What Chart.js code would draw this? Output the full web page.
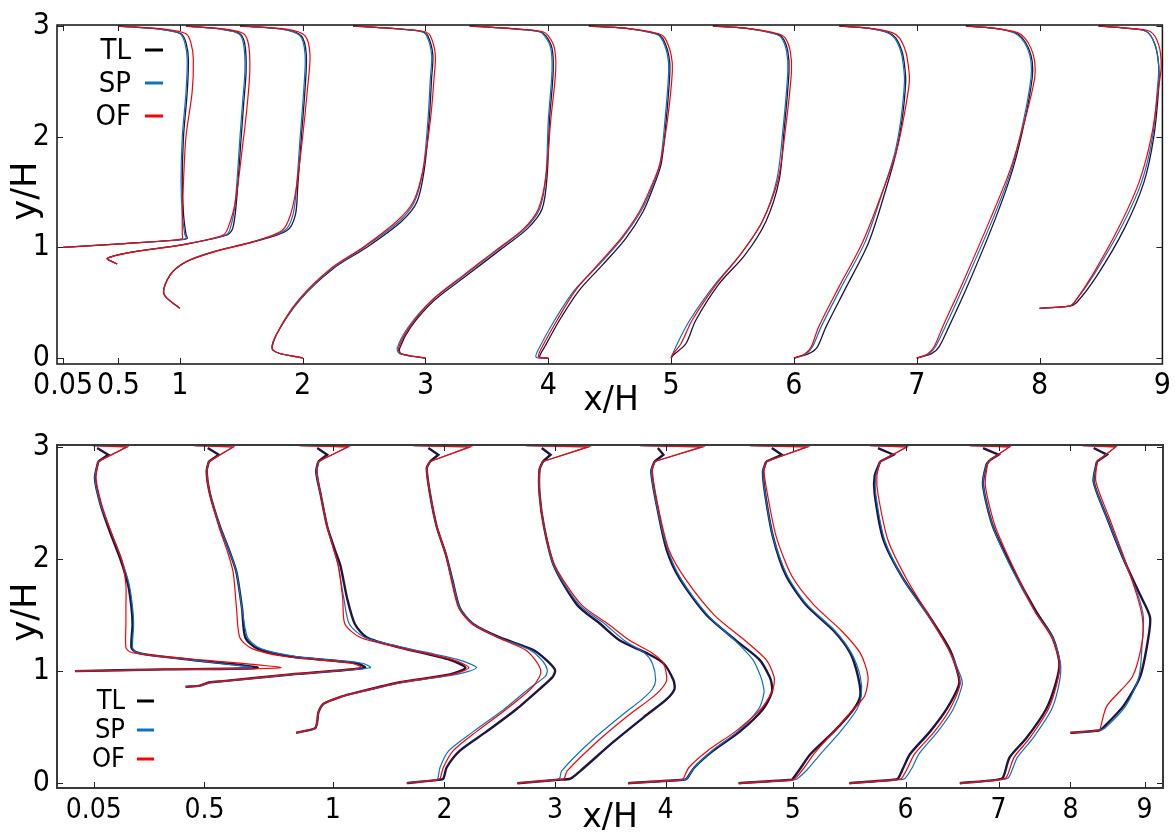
<!DOCTYPE html>
<html>
<head>
<meta charset="utf-8">
<script src="https://cdn.jsdelivr.net/npm/chart.js@4.4.0/dist/chart.umd.min.js"></script>
<style>
    body { margin: 0; background: #fff; }
    #topBox { position: absolute; left: 0; top: 0; width: 1175px; height: 420px; }
    #botBox { position: absolute; left: 0; top: 420px; width: 1175px; height: 413px; }
</style>
</head>
<body>
<div id="topBox"><canvas id="topChart" width="1175" height="420"></canvas></div>
<div id="botBox"><canvas id="botChart" width="1175" height="413"></canvas></div>
<script>
// ========== DATA: TOP PANEL (mean velocity, x/H = station + U) ==========
const seriesNames = ['TL', 'SP', 'OF'];
const topStations = [0.05, 0.5, 1, 2, 3, 4, 5, 6, 7, 8];
const topTickVals = [0.05, 0.5, 1, 2, 3, 4, 5, 6, 7, 8, 9];
const tickLabels = ['0.05', '0.5', '1', '2', '3', '4', '5', '6', '7', '8', '9'];
const yTickVals = [0, 1, 2, 3];

const topY = [
    [1.0, 1.035, 1.065, 1.08, 1.12, 1.3, 1.6, 2.0, 2.4, 2.7, 2.85, 2.93, 2.97, 3.0],
    [0.85, 0.9, 0.96, 1.02, 1.11, 1.17, 1.4, 2.0, 2.3, 2.6, 2.83, 2.93, 2.97, 3.0],
    [0.45, 0.58, 0.75, 0.87, 0.96, 1.05, 1.15, 1.29, 1.55, 2.0, 2.44, 2.74, 2.91, 2.97, 3.0],
    [0, 0.07, 0.22, 0.53, 0.81, 1.0, 1.23, 1.41, 1.7, 2.15, 2.53, 2.74, 2.91, 2.95, 2.98, 3.0],
    [0, 0.04, 0.09, 0.28, 0.52, 0.75, 0.98, 1.17, 1.35, 1.64, 2.15, 2.59, 2.8, 2.91, 2.95, 2.98, 3.0],
    [0, 0.01, 0.1, 0.34, 0.61, 0.84, 1.08, 1.32, 1.53, 1.76, 2.15, 2.59, 2.74, 2.89, 2.93, 2.98, 3.0],
    [0, 0.03, 0.13, 0.34, 0.67, 0.93, 1.23, 1.61, 2.06, 2.59, 2.77, 2.89, 2.93, 2.98, 3.0],
    [0, 0.04, 0.1, 0.28, 0.63, 1.05, 1.53, 1.85, 2.15, 2.5, 2.65, 2.77, 2.89, 2.94, 2.98, 3.0],
    [0, 0.04, 0.1, 0.28, 0.67, 1.26, 1.7, 2.15, 2.53, 2.68, 2.8, 2.89, 2.94, 2.98, 3.0],
    [0.45, 0.47, 0.5, 0.75, 1.17, 1.59, 2.0, 2.45, 2.64, 2.83, 2.95, 2.98, 3.0]
];
const topTL = [
    [0, 0.5, 0.92, 1.01, 1.0, 0.98, 0.97, 0.98, 1.01, 1.02, 1.0, 0.96, 0.8, 0.45],
    [-0.01, -0.09, 0.12, 0.5, 0.88, 0.93, 0.96, 1.0, 1.02, 1.04, 1.03, 0.99, 0.85, 0.55],
    [0, -0.13, -0.08, 0.05, 0.27, 0.6, 0.87, 0.94, 0.96, 0.99, 1.02, 1.03, 0.99, 0.85, 0.49],
    [0, -0.24, -0.21, -0.02, 0.25, 0.52, 0.8, 0.93, 0.99, 1.03, 1.05, 1.06, 1.02, 0.97, 0.7, 0.41],
    [0, -0.2, -0.21, -0.12, 0.07, 0.34, 0.61, 0.83, 0.95, 0.99, 1.01, 1.04, 1.03, 0.98, 0.93, 0.65, 0.36],
    [0, -0.07, -0.03, 0.09, 0.25, 0.44, 0.63, 0.77, 0.85, 0.92, 0.96, 0.99, 0.98, 0.93, 0.88, 0.62, 0.33],
    [0, 0.02, 0.12, 0.2, 0.39, 0.6, 0.77, 0.88, 0.92, 0.96, 0.95, 0.91, 0.85, 0.6, 0.34],
    [0, 0.12, 0.19, 0.26, 0.42, 0.61, 0.75, 0.83, 0.88, 0.91, 0.9, 0.88, 0.83, 0.77, 0.6, 0.37],
    [0, 0.12, 0.18, 0.26, 0.42, 0.64, 0.78, 0.88, 0.94, 0.94, 0.91, 0.86, 0.8, 0.62, 0.4],
    [0, 0.24, 0.3, 0.47, 0.69, 0.85, 0.93, 0.97, 0.97, 0.94, 0.87, 0.7, 0.48]
];
const topSP = [
    [0, 0.5, 0.91, 1.0, 0.99, 0.97, 0.96, 0.97, 1.0, 1.01, 0.99, 0.95, 0.79, 0.45],
    [-0.01, -0.09, 0.12, 0.5, 0.87, 0.91, 0.95, 0.99, 1.01, 1.03, 1.02, 0.98, 0.84, 0.55],
    [0, -0.13, -0.08, 0.05, 0.27, 0.59, 0.85, 0.92, 0.95, 0.98, 1.01, 1.02, 0.98, 0.84, 0.49],
    [0, -0.24, -0.21, -0.02, 0.24, 0.5, 0.78, 0.91, 0.98, 1.02, 1.04, 1.05, 1.01, 0.96, 0.7, 0.41],
    [0, -0.21, -0.23, -0.14, 0.05, 0.32, 0.59, 0.81, 0.93, 0.98, 1.0, 1.03, 1.02, 0.97, 0.92, 0.65, 0.36],
    [0, -0.1, -0.07, 0.05, 0.21, 0.41, 0.6, 0.75, 0.84, 0.91, 0.95, 0.98, 0.97, 0.92, 0.87, 0.62, 0.33],
    [0, 0.01, 0.05, 0.15, 0.36, 0.56, 0.74, 0.86, 0.91, 0.95, 0.94, 0.9, 0.84, 0.6, 0.34],
    [0, 0.1, 0.15, 0.22, 0.38, 0.58, 0.73, 0.82, 0.87, 0.9, 0.89, 0.87, 0.82, 0.76, 0.6, 0.37],
    [0, 0.1, 0.15, 0.23, 0.39, 0.62, 0.77, 0.87, 0.93, 0.93, 0.9, 0.85, 0.79, 0.62, 0.4],
    [0, 0.24, 0.28, 0.44, 0.66, 0.83, 0.92, 0.96, 0.97, 0.94, 0.87, 0.7, 0.48]
];
const topOF = [
    [0, 0.5, 0.89, 0.97, 0.97, 0.97, 0.98, 1.0, 1.05, 1.06, 1.04, 1.0, 0.84, 0.45],
    [-0.01, -0.09, 0.13, 0.51, 0.85, 0.89, 0.95, 1.02, 1.05, 1.07, 1.06, 1.02, 0.88, 0.55],
    [0, -0.13, -0.08, 0.05, 0.28, 0.59, 0.83, 0.9, 0.95, 1.0, 1.04, 1.06, 1.02, 0.88, 0.49],
    [0, -0.24, -0.21, -0.03, 0.23, 0.49, 0.76, 0.9, 0.98, 1.04, 1.07, 1.08, 1.04, 0.99, 0.71, 0.41],
    [0, -0.2, -0.22, -0.13, 0.05, 0.31, 0.58, 0.8, 0.92, 0.98, 1.02, 1.06, 1.05, 1.0, 0.95, 0.66, 0.36],
    [0, -0.08, -0.05, 0.07, 0.22, 0.4, 0.59, 0.74, 0.83, 0.91, 0.97, 1.01, 1.0, 0.95, 0.9, 0.63, 0.33],
    [0, 0.01, 0.08, 0.17, 0.37, 0.56, 0.74, 0.87, 0.93, 0.98, 0.97, 0.93, 0.87, 0.61, 0.34],
    [0, 0.09, 0.14, 0.2, 0.36, 0.56, 0.73, 0.83, 0.89, 0.94, 0.93, 0.91, 0.86, 0.8, 0.61, 0.37],
    [0, 0.09, 0.14, 0.21, 0.37, 0.6, 0.76, 0.88, 0.96, 0.96, 0.93, 0.88, 0.82, 0.63, 0.4],
    [0, 0.24, 0.28, 0.43, 0.64, 0.81, 0.91, 0.97, 0.99, 0.97, 0.9, 0.71, 0.48]
];

// ========== DATA: BOTTOM PANEL (profiles on a shifted axis) ==========
const botStations = [0, 1, 2, 3, 4, 5, 6, 7, 8, 9];
const botTickVals = [0.17, 1.17, 2.33, 3.34, 4.34, 5.34, 6.49, 7.51, 8.35, 9.0, 9.67];

const botY = [
    [1.0, 1.015, 1.03, 1.095, 1.14, 1.17, 1.21, 1.42, 1.57, 1.77, 2.0, 2.23, 2.49, 2.72, 2.87],
    [0.86, 0.87, 0.9, 0.91, 0.97, 1.03, 1.07, 1.13, 1.2, 1.3, 1.56, 1.88, 2.06, 2.29, 2.58, 2.78, 2.87],
    [0.45, 0.49, 0.55, 0.63, 0.71, 0.77, 0.81, 0.9, 0.97, 1.03, 1.1, 1.21, 1.3, 1.42, 1.65, 1.94, 2.08, 2.29, 2.58, 2.78, 2.87],
    [0, 0.03, 0.04, 0.14, 0.29, 0.46, 0.66, 0.84, 0.95, 1.01, 1.1, 1.19, 1.3, 1.42, 1.56, 1.82, 2.05, 2.29, 2.58, 2.81, 2.87],
    [0, 0.03, 0.04, 0.11, 0.37, 0.61, 0.75, 0.84, 0.92, 1.07, 1.16, 1.27, 1.42, 1.59, 1.94, 2.29, 2.58, 2.8, 2.87],
    [0, 0.03, 0.04, 0.14, 0.29, 0.46, 0.66, 0.81, 0.88, 0.95, 1.1, 1.27, 1.5, 1.82, 2.08, 2.43, 2.78, 2.87],
    [0, 0.03, 0.04, 0.12, 0.26, 0.46, 0.66, 0.78, 0.95, 1.16, 1.36, 1.59, 1.85, 2.2, 2.58, 2.78, 2.87],
    [0, 0.03, 0.04, 0.14, 0.26, 0.46, 0.66, 0.87, 0.95, 1.19, 1.48, 1.82, 2.17, 2.58, 2.74, 2.87],
    [0, 0.03, 0.05, 0.23, 0.4, 0.66, 0.9, 1.07, 1.3, 1.53, 1.91, 2.29, 2.66, 2.84, 2.88],
    [0.45, 0.47, 0.49, 0.69, 0.95, 1.27, 1.48, 1.68, 2.0, 2.37, 2.69, 2.87]
];
const botTL = [
    [0, 0.8, 1.65, 1.1, 0.7, 0.55, 0.51, 0.52, 0.51, 0.48, 0.41, 0.32, 0.23, 0.18, 0.21],
    [0, 0.13, 0.22, 0.34, 0.95, 1.62, 1.55, 0.95, 0.65, 0.54, 0.51, 0.46, 0.4, 0.31, 0.22, 0.19, 0.21],
    [0, 0.17, 0.19, 0.2, 0.25, 0.4, 0.55, 0.94, 1.39, 1.53, 1.39, 0.94, 0.64, 0.53, 0.46, 0.4, 0.35, 0.28, 0.22, 0.18, 0.2],
    [0, 0.28, 0.33, 0.36, 0.48, 0.72, 0.99, 1.2, 1.32, 1.34, 1.26, 1.14, 0.84, 0.6, 0.48, 0.41, 0.35, 0.27, 0.21, 0.18, 0.21],
    [0, 0.37, 0.48, 0.57, 0.87, 1.17, 1.35, 1.42, 1.41, 1.32, 1.17, 0.93, 0.75, 0.54, 0.33, 0.24, 0.2, 0.2, 0.23],
    [0, 0.5, 0.53, 0.6, 0.77, 1.01, 1.22, 1.3, 1.3, 1.28, 1.19, 0.98, 0.71, 0.47, 0.35, 0.27, 0.21, 0.24],
    [0, 0.48, 0.49, 0.55, 0.65, 0.86, 1.04, 1.1, 1.08, 1.01, 0.86, 0.61, 0.43, 0.31, 0.24, 0.22, 0.25],
    [0, 0.4, 0.44, 0.49, 0.55, 0.73, 0.88, 0.99, 0.99, 0.91, 0.73, 0.49, 0.31, 0.23, 0.23, 0.28],
    [0, 0.33, 0.39, 0.45, 0.6, 0.78, 0.87, 0.9, 0.84, 0.69, 0.48, 0.3, 0.21, 0.24, 0.27],
    [0, 0.26, 0.29, 0.48, 0.63, 0.7, 0.72, 0.63, 0.48, 0.33, 0.21, 0.24]
];
const botSP = [
    [0, 0.8, 1.6, 1.08, 0.7, 0.55, 0.52, 0.53, 0.52, 0.49, 0.42, 0.33, 0.23, 0.18, 0.21],
    [0, 0.13, 0.23, 0.36, 0.97, 1.67, 1.6, 1.0, 0.68, 0.56, 0.51, 0.46, 0.4, 0.31, 0.22, 0.19, 0.21],
    [0, 0.17, 0.19, 0.2, 0.25, 0.4, 0.56, 0.96, 1.45, 1.63, 1.47, 0.98, 0.62, 0.48, 0.43, 0.38, 0.34, 0.28, 0.22, 0.18, 0.2],
    [0, 0.26, 0.28, 0.3, 0.38, 0.6, 0.88, 1.1, 1.25, 1.27, 1.22, 1.11, 0.83, 0.6, 0.48, 0.41, 0.35, 0.27, 0.21, 0.18, 0.21],
    [0, 0.33, 0.38, 0.4, 0.66, 0.95, 1.13, 1.22, 1.25, 1.22, 1.15, 0.97, 0.79, 0.56, 0.33, 0.24, 0.2, 0.2, 0.23],
    [0, 0.5, 0.53, 0.6, 0.76, 0.99, 1.18, 1.23, 1.22, 1.2, 1.13, 0.97, 0.72, 0.48, 0.36, 0.27, 0.21, 0.24],
    [0, 0.5, 0.53, 0.62, 0.74, 0.92, 1.07, 1.11, 1.1, 1.02, 0.87, 0.62, 0.44, 0.31, 0.24, 0.22, 0.25],
    [0, 0.42, 0.5, 0.57, 0.63, 0.8, 0.94, 1.02, 1.01, 0.9, 0.72, 0.49, 0.32, 0.24, 0.24, 0.28],
    [0, 0.36, 0.44, 0.52, 0.66, 0.83, 0.9, 0.91, 0.84, 0.68, 0.47, 0.3, 0.21, 0.24, 0.27],
    [0, 0.26, 0.31, 0.5, 0.62, 0.65, 0.66, 0.61, 0.48, 0.33, 0.21, 0.24]
];
const botOF = [
    [0, 0.9, 1.86, 1.2, 0.68, 0.5, 0.46, 0.46, 0.46, 0.46, 0.42, 0.33, 0.24, 0.19, 0.21],
    [0, 0.13, 0.22, 0.34, 0.95, 1.59, 1.5, 0.9, 0.6, 0.49, 0.46, 0.43, 0.38, 0.3, 0.22, 0.19, 0.21],
    [0, 0.17, 0.19, 0.2, 0.25, 0.4, 0.55, 0.94, 1.41, 1.56, 1.42, 0.93, 0.58, 0.44, 0.42, 0.38, 0.34, 0.28, 0.22, 0.19, 0.2],
    [0, 0.27, 0.3, 0.33, 0.42, 0.63, 0.9, 1.12, 1.2, 1.21, 1.16, 1.07, 0.82, 0.59, 0.47, 0.4, 0.35, 0.27, 0.21, 0.18, 0.21],
    [0, 0.35, 0.42, 0.45, 0.72, 1.01, 1.2, 1.3, 1.35, 1.32, 1.22, 1.02, 0.82, 0.58, 0.34, 0.24, 0.2, 0.2, 0.23],
    [0, 0.48, 0.5, 0.55, 0.72, 0.97, 1.2, 1.3, 1.32, 1.32, 1.25, 1.06, 0.78, 0.52, 0.37, 0.28, 0.22, 0.24],
    [0, 0.49, 0.51, 0.58, 0.68, 0.86, 1.04, 1.14, 1.17, 1.1, 0.93, 0.68, 0.48, 0.34, 0.26, 0.23, 0.25],
    [0, 0.41, 0.47, 0.53, 0.59, 0.77, 0.91, 1.0, 0.99, 0.9, 0.73, 0.52, 0.35, 0.26, 0.25, 0.28],
    [0, 0.35, 0.42, 0.49, 0.63, 0.8, 0.88, 0.9, 0.83, 0.68, 0.49, 0.32, 0.23, 0.25, 0.27],
    [0, 0.26, 0.27, 0.33, 0.56, 0.65, 0.65, 0.6, 0.49, 0.35, 0.23, 0.24]
];
// kinks at the upper wall
const tailTLY = [2.93, 2.99];
const tailOFY = [3.0, 3.012];
const botTailTL = [[0.3, 0.2], [0.3, 0.2], [0.28, 0.19], [0.285, 0.195], [0.3, 0.22], [0.32, 0.27], [0.39, 0.3], [0.4, 0.26], [0.35, 0.21], [0.33, 0.21]];
const botTailOF = [[0.47, 0.16], [0.43, 0.08], [0.47, 0.03], [0.57, 0.06], [0.64, 0.08], [0.67, 0.11], [0.62, 0.1], [0.52, 0.19], [0.45, 0.09], [0.41, 0.11]];

// ========== STYLE ==========
const FONT = "'DejaVu Sans Condensed', 'DejaVu Sans', sans-serif";
Chart.defaults.font.family = FONT;
Chart.defaults.color = '#000';
Chart.defaults.animation = false;

const lineColors = { TL: '#1e1540', SP: '#0b72c4', OF: '#ff0000' };
const legendColors = ['#000000', '#0b72c4', '#ff0000'];
const drawOrder = { TL: 2, SP: 1, OF: 0 };

function pts(base, xs, ys) {
    return ys.map((y, i) => ({ x: base + xs[i], y: y }));
}

function lineSet(name, data, width, tension) {
    return {
        label: name,
        data: data,
        showLine: true,
        pointRadius: 0,
        pointHoverRadius: 0,
        borderColor: lineColors[name],
        backgroundColor: lineColors[name],
        borderWidth: width,
        tension: tension,
        fill: false,
        order: drawOrder[name]
    };
}

// ========== FRAME / TICKS / LEGEND / TITLES ==========
const framePlugin = {
    id: 'frame',
    afterDraw(chart, args, o) {
        const ctx = chart.ctx;
        const a = chart.chartArea;
        const sx = chart.scales.x, sy = chart.scales.y;
        ctx.save();
        ctx.strokeStyle = o.frameColor;
        ctx.lineWidth = o.frameWidth;
        ctx.strokeRect(a.left, a.top, a.right - a.left, a.bottom - a.top);

        ctx.lineWidth = 1;
        ctx.strokeStyle = '#222';
        ctx.beginPath();
        sx.ticks.forEach(t => {
            const p = Math.round(sx.getPixelForValue(t.value)) + 0.5;
            ctx.moveTo(p, a.bottom); ctx.lineTo(p, a.bottom - 6);
            ctx.moveTo(p, a.top); ctx.lineTo(p, a.top + 6);
        });
        sy.ticks.forEach(t => {
            const p = Math.round(sy.getPixelForValue(t.value)) + 0.5;
            ctx.moveTo(a.left, p); ctx.lineTo(a.left + 6, p);
            ctx.moveTo(a.right, p); ctx.lineTo(a.right - 6, p);
        });
        ctx.stroke();

        // legend
        const L = o.legend;
        ctx.font = L.size + 'px ' + FONT;
        ctx.textAlign = 'right';
        ctx.textBaseline = 'middle';
        seriesNames.forEach((n, i) => {
            const y = L.y + i * L.dy;
            ctx.fillStyle = '#000';
            ctx.fillText(n, L.x, y);
            ctx.strokeStyle = legendColors[i];
            ctx.lineWidth = 3;
            ctx.beginPath();
            ctx.moveTo(L.x1, y - 1);
            ctx.lineTo(L.x2, y - 1);
            ctx.stroke();
        });

        // axis titles
        ctx.fillStyle = '#000';
        ctx.textAlign = 'center';
        ctx.textBaseline = 'middle';
        ctx.font = "33px 'DejaVu Sans', sans-serif";
        ctx.fillText('x/H', o.xTitle[0], o.xTitle[1]);
        ctx.font = "35px 'DejaVu Sans', sans-serif";
        ctx.translate(o.yTitle[0], o.yTitle[1]);
        ctx.rotate(-Math.PI / 2);
        ctx.fillText('y/H', 0, 0);
        ctx.restore();
    }
};

function xAxis(min, max, vals, size, pad, h) {
    return {
        type: 'linear',
        min: min,
        max: max,
        afterBuildTicks: s => { s.ticks = vals.map(v => ({ value: v })); },
        afterFit: s => { s.height = h; },
        ticks: {
            autoSkip: false, maxRotation: 0, minRotation: 0,
            padding: pad, color: '#000', font: { size: size },
            callback: (v, i) => tickLabels[i]
        },
        grid: { display: false, drawTicks: false },
        border: { display: false }
    };
}

function yAxis(min, max) {
    return {
        type: 'linear',
        min: min,
        max: max,
        afterBuildTicks: s => { s.ticks = yTickVals.map(v => ({ value: v })); },
        afterFit: s => { s.width = 57; },
        ticks: { padding: 7, color: '#000', font: { size: 30 }, callback: v => String(v) },
        grid: { display: false, drawTicks: false },
        border: { display: false }
    };
}

// ========== TOP CHART ==========
const topSets = [];
topStations.forEach((s, i) => {
    topSets.push(lineSet('TL', pts(s, topTL[i], topY[i]), 1.3, 0.3));
    topSets.push(lineSet('SP', pts(s, topSP[i], topY[i]), 1.2, 0.3));
    topSets.push(lineSet('OF', pts(s, topOF[i], topY[i]), 1.2, 0.3));
});

new Chart(document.getElementById('topChart'), {
    type: 'scatter',
    data: { datasets: topSets },
    options: {
        responsive: false,
        layout: { padding: { top: 20, right: 12, left: 0, bottom: 0 } },
        plugins: {
            legend: { display: false },
            tooltip: { enabled: false },
            frame: {
                frameColor: '#111', frameWidth: 1.5,
                legend: { x: 131, x1: 145, x2: 163, y: 51, dy: 33, size: 29 },
                xTitle: [611, 401], yTitle: [27, 191]
            }
        },
        scales: {
            x: xAxis(0, 9, topTickVals, 30, 4, 56),
            y: yAxis(-0.053, 3.009)
        }
    },
    plugins: [framePlugin]
});

// ========== BOTTOM CHART ==========
const botSets = [];
botStations.forEach((s, i) => {
    const tl = pts(s, botTL[i], botY[i]);
    const sp = pts(s, botSP[i], botY[i]);
    const of = pts(s, botOF[i], botY[i]);
    botSets.push(lineSet('TL', tl, 2.4, 0.25));
    botSets.push(lineSet('SP', sp, 1.2, 0.25));
    botSets.push(lineSet('OF', of, 1.2, 0.25));
    botSets.push(lineSet('TL', [tl[tl.length - 1]].concat(pts(s, botTailTL[i], tailTLY)), 2.4, 0));
    botSets.push(lineSet('SP', [sp[sp.length - 1]].concat(pts(s, botTailOF[i], tailOFY)), 1.2, 0));
    botSets.push(lineSet('OF', [of[of.length - 1]].concat(pts(s, botTailOF[i], tailOFY)), 1.2, 0));
});

new Chart(document.getElementById('botChart'), {
    type: 'scatter',
    data: { datasets: botSets },
    options: {
        responsive: false,
        layout: { padding: { top: 16, right: 12, left: 0, bottom: 0 } },
        plugins: {
            legend: { display: false },
            tooltip: { enabled: false },
            frame: {
                frameColor: '#3a3a3a', frameWidth: 2,
                legend: { x: 125, x1: 137, x2: 154, y: 282, dy: 29, size: 27 },
                xTitle: [610, 398], yTitle: [27, 192]
            }
        },
        scales: {
            x: xAxis(-0.163, 9.837, botTickVals, 28, 6, 45),
            y: yAxis(-0.043, 3.017)
        }
    },
    plugins: [framePlugin]
});
</script>
</body>
</html>
